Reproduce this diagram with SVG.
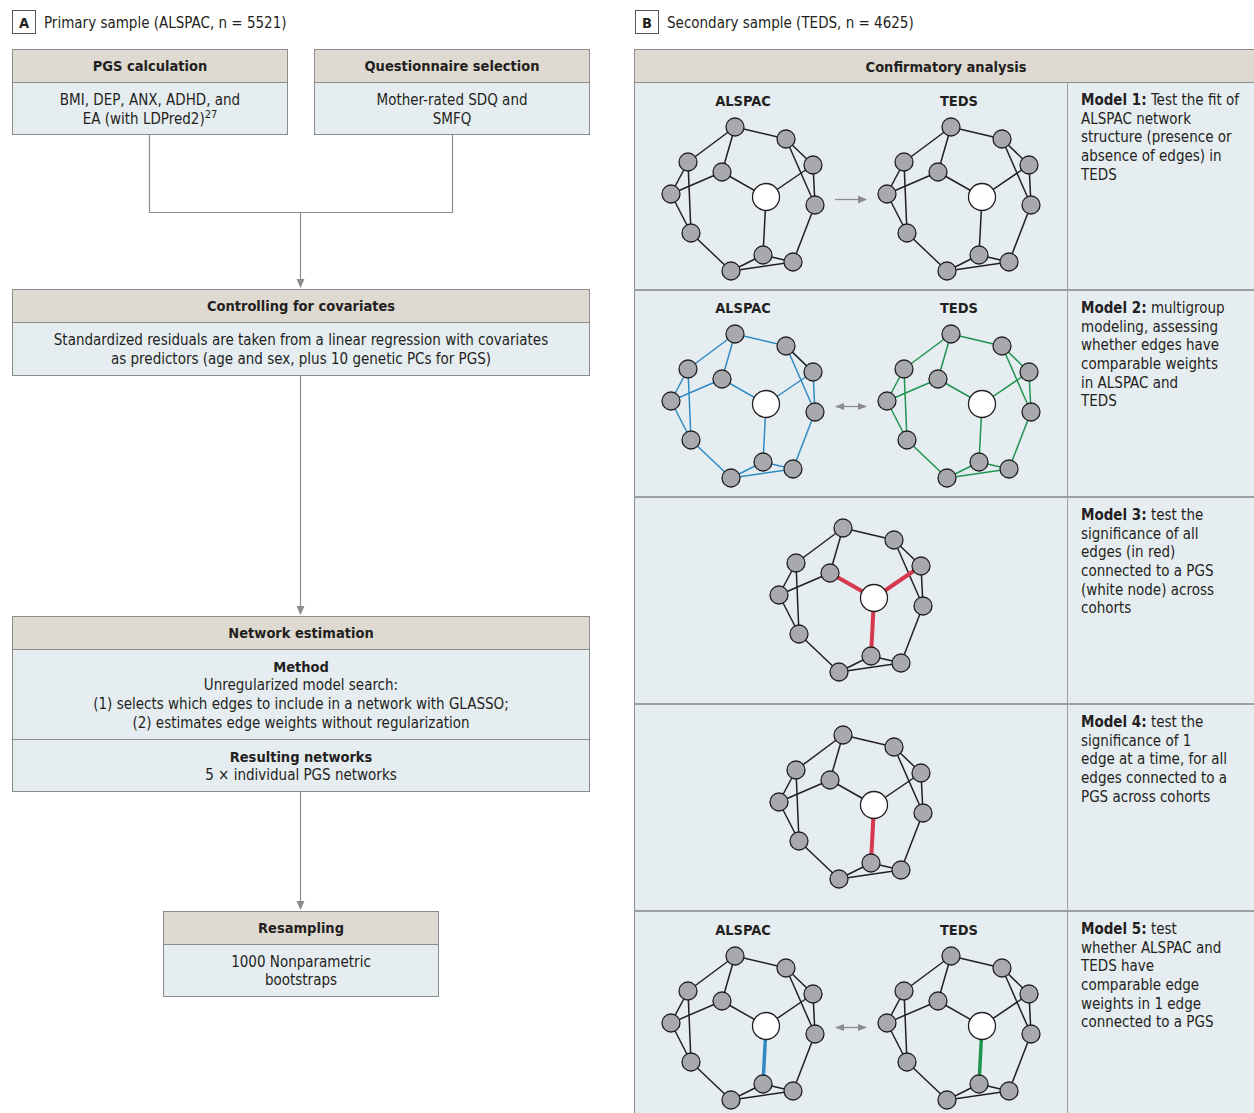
<svg xmlns="http://www.w3.org/2000/svg" xmlns:xlink="http://www.w3.org/1999/xlink" width="1254" height="1113" viewBox="0 0 1254 1113">
<style>
text{font-family:"Liberation Sans Narrow","DejaVu Sans Condensed","Liberation Sans",Arial,sans-serif;fill:#231f20;font-size:15px}
.b{font-weight:bold;font-size:14.5px}
.mb{font-weight:bold}
.c{text-anchor:middle}
.hd{fill:#dedad1;stroke:#8c8c8c;stroke-width:1}
.bd{fill:#e6edf1;stroke:#8c8c8c;stroke-width:1}
.conn{fill:none;stroke:#8c8c8c;stroke-width:1.2}
.gn{fill:#a7a9ac;stroke:#231f20;stroke-width:1.3}
.wn{fill:#ffffff;stroke:#231f20;stroke-width:1.3}
.sep{stroke:#9d9d9d;stroke-width:2}
.garrow{stroke:#8c8c8c;stroke-width:1.3;fill:none}
</style>
<defs>
<marker id="ah" markerWidth="10" markerHeight="10" refX="8" refY="5" orient="auto" markerUnits="userSpaceOnUse">
<path d="M0,1 L9,5 L0,9 Z" fill="#8c8c8c"/>
</marker>
<marker id="ahs" markerWidth="10" markerHeight="10" refX="8" refY="5" orient="auto-start-reverse" markerUnits="userSpaceOnUse">
<path d="M0,1.5 L9,5 L0,8.5 Z" fill="#8c8c8c"/>
</marker>
<g id="edges">
<line x1="-31" y1="-70" x2="20" y2="-58"/>
<line x1="-31" y1="-70" x2="-78" y2="-35"/>
<line x1="-31" y1="-70" x2="-44" y2="-25"/>
<line x1="-78" y1="-35" x2="-95" y2="-3"/>
<line x1="-78" y1="-35" x2="-75" y2="36"/>
<line x1="-44" y1="-25" x2="-95" y2="-3"/>
<line x1="-44" y1="-25" x2="0" y2="0"/>
<line x1="-95" y1="-3" x2="-75" y2="36"/>
<line x1="-75" y1="36" x2="-35" y2="74"/>
<line x1="-35" y1="74" x2="-3" y2="58"/>
<line x1="-35" y1="74" x2="27" y2="65"/>
<line x1="-3" y1="58" x2="27" y2="65"/>
<line x1="-3" y1="58" x2="0" y2="0"/>
<line x1="0" y1="0" x2="47" y2="-32"/>
<line x1="20" y1="-58" x2="47" y2="-32"/>
<line x1="20" y1="-58" x2="49" y2="8"/>
<line x1="47" y1="-32" x2="49" y2="8"/>
<line x1="49" y1="8" x2="27" y2="65"/>
</g>
<g id="nodes">
<circle class="gn" cx="-31" cy="-70" r="9"/>
<circle class="gn" cx="20" cy="-58" r="9"/>
<circle class="gn" cx="47" cy="-32" r="9"/>
<circle class="gn" cx="49" cy="8" r="9"/>
<circle class="gn" cx="-78" cy="-35" r="9"/>
<circle class="gn" cx="-44" cy="-25" r="9"/>
<circle class="gn" cx="-95" cy="-3" r="9"/>
<circle class="gn" cx="-75" cy="36" r="9"/>
<circle class="gn" cx="-35" cy="74" r="9"/>
<circle class="gn" cx="-3" cy="58" r="9"/>
<circle class="gn" cx="27" cy="65" r="9"/>
<circle class="wn" cx="0" cy="0" r="13.5"/>
</g>
</defs>
<rect width="1254" height="1113" fill="#ffffff"/>

<!-- Panel A -->
<g id="panelA-title">
<rect x="12.5" y="10.5" width="23" height="23" fill="#fff" stroke="#555" stroke-width="1"/>
<text x="24" y="28" class="b c">A</text>
<text x="44" y="28" font-size="16">Primary sample (ALSPAC, n = 5521)</text>
</g>

<g id="connectors">
<path class="conn" d="M149.5,135 V212.5 H452.5 V135"/>
<path class="conn" d="M300.5,212.5 V287" marker-end="url(#ah)"/>
<path class="conn" d="M300.5,375 V614" marker-end="url(#ah)"/>
<path class="conn" d="M300.5,791 V909" marker-end="url(#ah)"/>
</g>

<g id="pgs">
<rect class="hd" x="12.5" y="49.5" width="275" height="33"/>
<rect class="bd" x="12.5" y="82.5" width="275" height="52"/>
<text x="150" y="71" class="b c">PGS calculation</text>
<text x="150" y="105" class="c">BMI, DEP, ANX, ADHD, and</text>
<text x="150" y="124" class="c">EA (with LDPred2)<tspan font-size="11" dy="-6">27</tspan></text>
</g>

<g id="questionnaire">
<rect class="hd" x="314.5" y="49.5" width="275" height="33"/>
<rect class="bd" x="314.5" y="82.5" width="275" height="52"/>
<text x="452" y="71" class="b c">Questionnaire selection</text>
<text x="452" y="105" class="c">Mother-rated SDQ and</text>
<text x="452" y="124" class="c">SMFQ</text>
</g>

<g id="covariates">
<rect class="hd" x="12.5" y="289.5" width="577" height="33"/>
<rect class="bd" x="12.5" y="322.5" width="577" height="53"/>
<text x="301" y="311" class="b c">Controlling for covariates</text>
<text x="301" y="345" class="c">Standardized residuals are taken from a linear regression with covariates</text>
<text x="301" y="364" class="c">as predictors (age and sex, plus 10 genetic PCs for PGS)</text>
</g>

<g id="network-estimation">
<rect class="hd" x="12.5" y="616.5" width="577" height="33"/>
<rect class="bd" x="12.5" y="649.5" width="577" height="90"/>
<rect class="bd" x="12.5" y="739.5" width="577" height="52"/>
<text x="301" y="638" class="b c">Network estimation</text>
<text x="301" y="672" class="b c">Method</text>
<text x="301" y="690" class="c">Unregularized model search:</text>
<text x="301" y="709" class="c">(1) selects which edges to include in a network with GLASSO;</text>
<text x="301" y="728" class="c">(2) estimates edge weights without regularization</text>
<text x="301" y="762" class="b c">Resulting networks</text>
<text x="301" y="780" class="c">5 × individual PGS networks</text>
</g>

<g id="resampling">
<rect class="hd" x="163.5" y="911.5" width="275" height="33"/>
<rect class="bd" x="163.5" y="944.5" width="275" height="52"/>
<text x="301" y="933" class="b c">Resampling</text>
<text x="301" y="967" class="c">1000 Nonparametric</text>
<text x="301" y="985" class="c">bootstraps</text>
</g>

<!-- Panel B -->
<g id="panelB-title">
<rect x="635.5" y="10.5" width="23" height="23" fill="#fff" stroke="#555" stroke-width="1"/>
<text x="647" y="28" class="b c">B</text>
<text x="667" y="28" font-size="16">Secondary sample (TEDS, n = 4625)</text>
</g>

<g id="panelB-frame">
<rect class="hd" x="634.5" y="49.5" width="625" height="33"/>
<rect class="bd" x="634.5" y="82.5" width="625" height="1040"/>
<line class="sep" x1="634" y1="290" x2="1254" y2="290"/>
<line class="sep" x1="634" y1="497" x2="1254" y2="497"/>
<line class="sep" x1="634" y1="704" x2="1254" y2="704"/>
<line class="sep" x1="634" y1="911" x2="1254" y2="911"/>
<line x1="1067.5" y1="82" x2="1067.5" y2="1113" stroke="#9d9d9d" stroke-width="1"/>
<text x="946" y="72" class="b c">Confirmatory analysis</text>
</g>

<!-- Row 1 -->
<g id="row1">
<text x="743" y="106" class="b c">ALSPAC</text>
<text x="959" y="106" class="b c">TEDS</text>
<g id="net1a" transform="translate(766,197)">
<use xlink:href="#edges" stroke="#231f20" stroke-width="1.5"/>
<use xlink:href="#nodes"/>
</g>
<line class="garrow" x1="835" y1="199.5" x2="866" y2="199.5" marker-end="url(#ah)"/>
<g id="net1t" transform="translate(982,197)">
<use xlink:href="#edges" stroke="#231f20" stroke-width="1.5"/>
<use xlink:href="#nodes"/>
</g>
<text x="1081" y="105"><tspan class="mb">Model 1:</tspan> Test the fit of</text>
<text x="1081" y="123.5">ALSPAC network</text>
<text x="1081" y="142">structure (presence or</text>
<text x="1081" y="161">absence of edges) in</text>
<text x="1081" y="179.5">TEDS</text>
</g>

<!-- Row 2 -->
<g id="row2">
<text x="743" y="313" class="b c">ALSPAC</text>
<text x="959" y="313" class="b c">TEDS</text>
<g id="net2a" transform="translate(766,404)">
<use xlink:href="#edges" stroke="#2f8ac4" stroke-width="1.5"/>
<line x1="20" y1="-58" x2="47" y2="-32" stroke="#231f20" stroke-width="1.5"/>
<use xlink:href="#nodes"/>
</g>
<line class="garrow" x1="836" y1="406.5" x2="866" y2="406.5" marker-start="url(#ahs)" marker-end="url(#ahs)"/>
<g id="net2t" transform="translate(982,404)">
<use xlink:href="#edges" stroke="#1f9450" stroke-width="1.5"/>
<use xlink:href="#nodes"/>
</g>
<text x="1081" y="313"><tspan class="mb">Model 2:</tspan> multigroup</text>
<text x="1081" y="331.5">modeling, assessing</text>
<text x="1081" y="350">whether edges have</text>
<text x="1081" y="369">comparable weights</text>
<text x="1081" y="387.5">in ALSPAC and</text>
<text x="1081" y="406">TEDS</text>
</g>

<!-- Row 3 -->
<g id="row3">
<g id="net3" transform="translate(874,598)">
<use xlink:href="#edges" stroke="#231f20" stroke-width="1.5"/>
<g stroke="#d6384e" stroke-width="4">
<line x1="-44" y1="-25" x2="0" y2="0"/>
<line x1="0" y1="0" x2="47" y2="-32"/>
<line x1="-3" y1="58" x2="0" y2="0"/>
</g>
<use xlink:href="#nodes"/>
</g>
<text x="1081" y="520"><tspan class="mb">Model 3:</tspan> test the</text>
<text x="1081" y="538.5">significance of all</text>
<text x="1081" y="557">edges (in red)</text>
<text x="1081" y="576">connected to a PGS</text>
<text x="1081" y="594.5">(white node) across</text>
<text x="1081" y="613">cohorts</text>
</g>

<!-- Row 4 -->
<g id="row4">
<g id="net4" transform="translate(874,805)">
<use xlink:href="#edges" stroke="#231f20" stroke-width="1.5"/>
<line x1="-3" y1="58" x2="0" y2="0" stroke="#d6384e" stroke-width="4"/>
<use xlink:href="#nodes"/>
</g>
<text x="1081" y="727"><tspan class="mb">Model 4:</tspan> test the</text>
<text x="1081" y="745.5">significance of 1</text>
<text x="1081" y="764">edge at a time, for all</text>
<text x="1081" y="783">edges connected to a</text>
<text x="1081" y="801.5">PGS across cohorts</text>
</g>

<!-- Row 5 -->
<g id="row5">
<text x="743" y="935" class="b c">ALSPAC</text>
<text x="959" y="935" class="b c">TEDS</text>
<g id="net5a" transform="translate(766,1026)">
<use xlink:href="#edges" stroke="#231f20" stroke-width="1.5"/>
<line x1="-3" y1="58" x2="0" y2="0" stroke="#2f8ac4" stroke-width="3.5"/>
<use xlink:href="#nodes"/>
</g>
<line class="garrow" x1="836" y1="1027.5" x2="866" y2="1027.5" marker-start="url(#ahs)" marker-end="url(#ahs)"/>
<g id="net5t" transform="translate(982,1026)">
<use xlink:href="#edges" stroke="#231f20" stroke-width="1.5"/>
<line x1="-3" y1="58" x2="0" y2="0" stroke="#1f9450" stroke-width="3.5"/>
<use xlink:href="#nodes"/>
</g>
<text x="1081" y="934"><tspan class="mb">Model 5:</tspan> test</text>
<text x="1081" y="952.5">whether ALSPAC and</text>
<text x="1081" y="971">TEDS have</text>
<text x="1081" y="990">comparable edge</text>
<text x="1081" y="1008.5">weights in 1 edge</text>
<text x="1081" y="1027">connected to a PGS</text>
</g>
</svg>
